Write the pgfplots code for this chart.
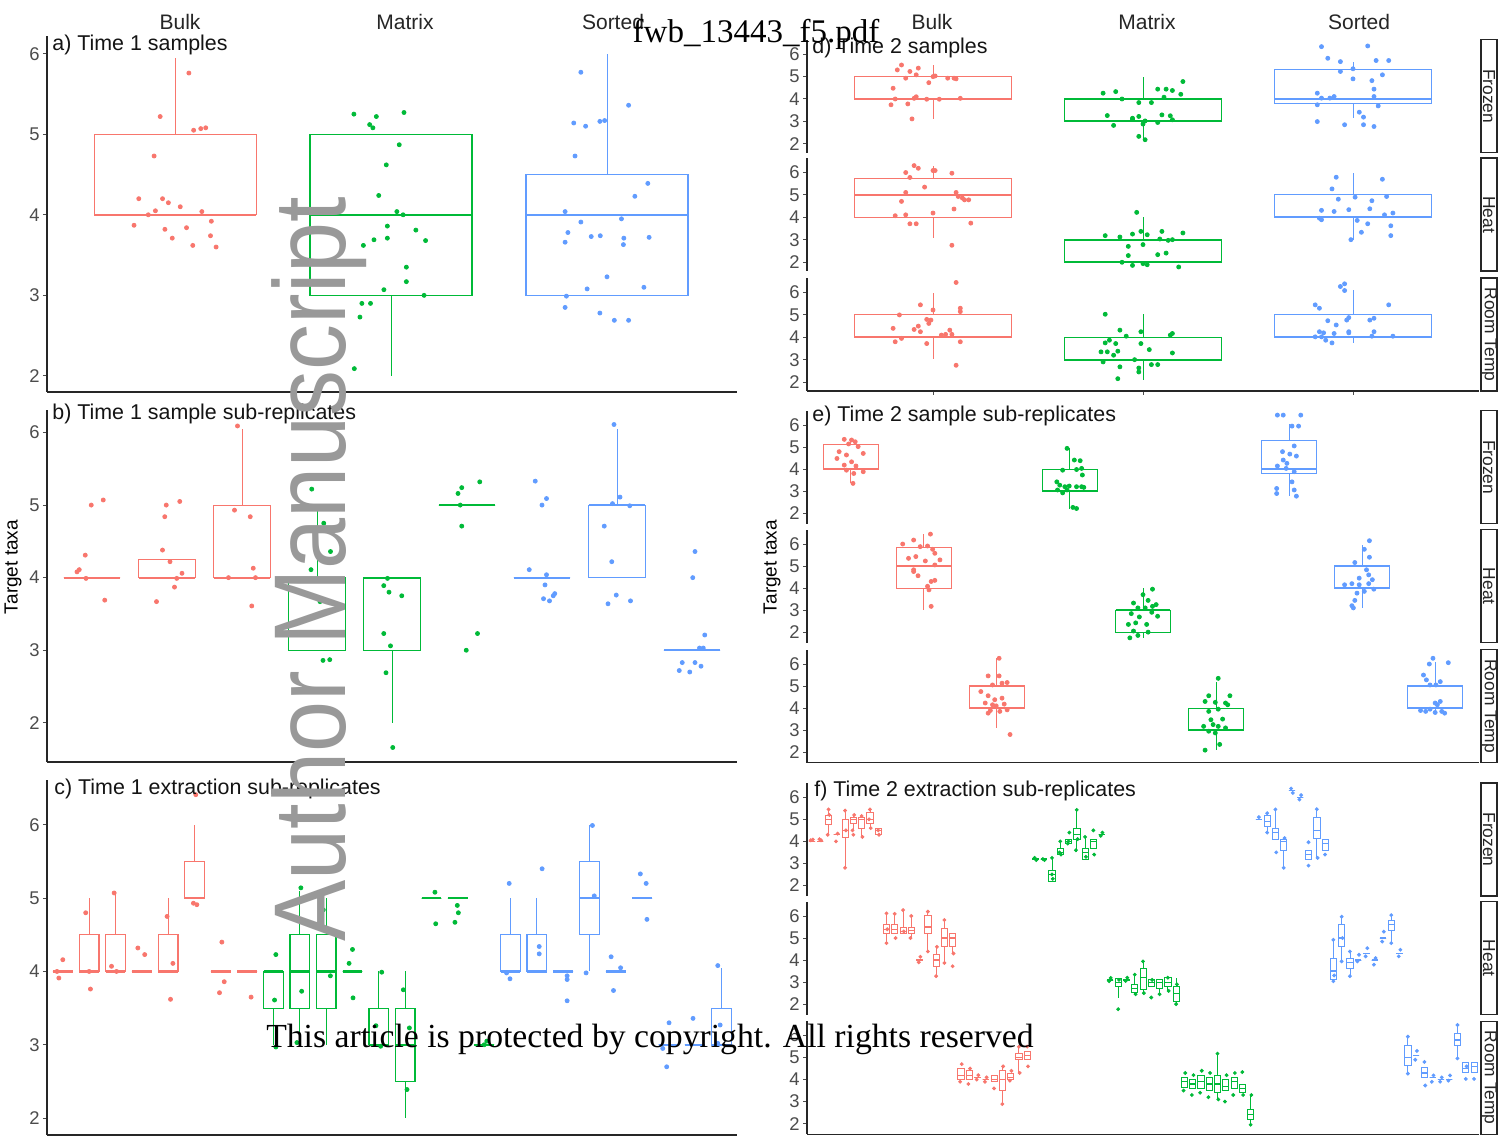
\documentclass[border=0pt]{standalone}
\usepackage{fontspec}
\setmainfont{Liberation Sans}
\newfontfamily\serif{Liberation Serif}
\usepackage{pgfplots}
\pgfplotsset{compat=1.18}
\usepgfplotslibrary{statistics}
\definecolor{cR}{HTML}{F8766D}
\definecolor{cG}{HTML}{00BA38}
\definecolor{cB}{HTML}{619CFF}
\newcommand{\bx}[7]{\addplot[draw=#1, boxplot prepared={draw position=#2, lower whisker=#3, lower quartile=#4, median=#5, upper quartile=#6, upper whisker=#7}] coordinates {};}
\newcommand{\bl}[3]{\bx{#1}{#2}{#3}{#3}{#3}{#3}{#3}}
\newcommand{\pts}[2]{\addplot[only marks, mark=*, mark size=1pt, color=#1, mark options={draw=none, fill=#1}] coordinates {#2};}
\newcommand{\ptf}[2]{\addplot[only marks, mark=*, mark size=0.75pt, color=#1, mark options={draw=none, fill=#1}] coordinates {#2};}
\pgfplotsset{
  every non boxed x axis/.append style={x axis line style=-},
  every non boxed y axis/.append style={y axis line style=-},
  pbase/.style={scale only axis, anchor=south west,
    ytick={2,3,4,5,6}, xtick=\empty,
    tick style={black!70, line width=0.5pt}, major tick length=2pt,
    ticklabel style={font=\fontsize{9.2}{9.2}\selectfont, text=black!70},
    yticklabel style={inner sep=1.5pt},
    /pgf/number format/assume math mode=true,
    boxplot/draw direction=y,
    boxplot/whisker extend=0, boxplot/box extend=0.75,
    boxplot/every median/.style={line width=1.1pt},
    boxplot/every box/.style={line width=0.55pt},
    boxplot/every whisker/.style={line width=0.5pt}},
  lns/.style={axis line style={-, black!85, line width=0.6pt}, tick align=outside},
  panL/.style={pbase, width=345pt, axis x line=bottom, axis y line=left, lns},
  panR/.style={pbase, width=336pt, height=56.5pt, axis x line=none, axis y line=left, lns},
  panRb/.style={pbase, width=336pt, height=56.5pt, axis x line=bottom, axis y line=left, lns},
  thinbox/.style={boxplot/every median/.style={line width=0.6pt},
    boxplot/every box/.style={line width=0.4pt},
    boxplot/every whisker/.style={line width=0.4pt}},
}
\begin{document}
\begin{tikzpicture}
\useasboundingbox (0,0) rectangle (752pt,568.5pt);
\fill[white] (0,0) rectangle (752pt,568.5pt);

% ---------- a) Time 1 samples
\begin{axis}[panL, at={(23.5pt,372.5pt)}, height=178pt, xmin=0.407, xmax=3.602, ymin=1.8, ymax=6.22]
\bx{cR}{1}{4}{4}{4}{5}{5.95}
\bx{cG}{2}{2}{3}{4}{5}{5}
\bx{cB}{3}{3}{3}{4}{4.5}{6}
\pts{cR}{(1.064,5.76)(0.931,5.22)(1.086,5.05)(1.119,5.07)(1.142,5.08)(0.903,4.73)(0.832,4.2)(0.942,4.2)(0.969,4.15)(1.024,4.1)(0.909,4.05)(0.876,4.0)(1.124,4.04)(0.810,3.87)(0.953,3.82)(1.053,3.84)(1.168,3.92)(0.987,3.71)(1.164,3.74)(1.082,3.62)(1.190,3.6)}
\pts{cG}{(1.828,5.25)(1.932,5.22)(2.060,5.27)(1.901,5.12)(1.916,5.08)(2.038,4.87)(1.978,4.62)(1.943,4.24)(2.027,4.04)(2.056,4.0)(1.983,3.86)(2.115,3.81)(1.921,3.69)(1.983,3.71)(2.160,3.68)(1.872,3.62)(2.071,3.35)(2.071,3.17)(1.967,3.07)(2.153,3.0)(1.865,2.9)(1.905,2.9)(1.856,2.73)(1.830,2.09)}
\pts{cB}{(2.879,5.77)(3.100,5.36)(2.846,5.14)(2.901,5.1)(2.967,5.16)(2.989,5.17)(2.852,4.73)(3.189,4.39)(3.129,4.23)(2.806,4.04)(2.879,3.91)(3.067,3.95)(2.819,3.78)(2.927,3.73)(2.969,3.74)(3.078,3.71)(3.195,3.72)(2.806,3.66)(3.076,3.63)(3.0,3.23)(2.908,3.08)(3.171,3.1)(2.812,2.99)(2.806,2.85)(2.967,2.78)(3.034,2.69)(3.100,2.69)}
\end{axis}

% ---------- b) Time 1 sample sub-replicates
\begin{axis}[panL, at={(23.5pt,187.5pt)}, height=176pt, xmin=0.4, xmax=9.6, ymin=1.46, ymax=6.31]
\bl{cR}{1}{4}
\bx{cR}{2}{4}{4}{4}{4.25}{4.25}
\bx{cR}{3}{4}{4}{4}{5}{6.05}
\bx{cG}{4}{3}{3}{4}{4}{5}
\bx{cG}{5}{2}{3}{4}{4}{4}
\bl{cG}{6}{5}
\bl{cB}{7}{4}
\bx{cB}{8}{4}{4}{5}{5}{6.05}
\bl{cB}{9}{3}
\pts{cR}{(0.99,5.0)(1.15,5.07)(0.91,4.31)(0.83,4.11)(0.80,4.08)(0.92,3.99)(1.17,3.69)(1.99,5.0)(2.17,5.05)(1.97,4.84)(1.94,4.38)(2.04,4.22)(2.20,4.06)(2.13,3.99)(2.10,3.87)(1.86,3.67)(2.94,6.09)(2.90,4.93)(3.11,4.84)(3.15,4.13)(2.82,4.0)(3.18,4.0)(3.13,3.61)}
\pts{cG}{(3.93,5.22)(4.09,4.75)(4.18,4.36)(3.92,4.11)(3.92,3.98)(4.04,3.67)(4.13,3.23)(4.08,2.86)(4.17,2.87)(4.94,3.99)(4.89,3.89)(4.96,3.80)(5.13,3.75)(4.89,3.23)(4.98,3.06)(4.92,2.69)(5.01,1.66)(6.17,5.32)(5.93,5.24)(5.88,5.16)(5.91,5.0)(5.93,4.71)(6.14,3.23)(5.99,3.0)}
\pts{cB}{(6.91,5.33)(7.06,5.09)(7.0,5.0)(6.83,4.11)(7.06,4.04)(7.04,3.90)(7.17,3.78)(7.15,3.75)(7.02,3.71)(7.10,3.68)(7.96,6.11)(8.04,5.11)(7.94,5.02)(8.17,4.99)(7.83,4.71)(7.93,4.22)(7.99,3.76)(8.18,3.68)(7.88,3.64)(9.04,4.36)(9.01,4.0)(9.17,3.21)(9.10,3.03)(9.15,3.03)(8.87,2.83)(9.04,2.83)(9.12,2.78)(8.83,2.72)(8.97,2.70)}
\end{axis}

% ---------- c) Time 1 extraction sub-replicates
\begin{axis}[panL, at={(23.5pt,1pt)}, height=177.5pt, xmin=0.4, xmax=26.6, ymin=1.77, ymax=6.61]
\bl{cR}{1}{4}
\bx{cR}{2}{4}{4}{4}{4.5}{5}
\bx{cR}{3}{4}{4}{4}{4.5}{5.05}
\bl{cR}{4}{4}
\bx{cR}{5}{4}{4}{4}{4.5}{5}
\bx{cR}{6}{5}{5}{5}{5.5}{6}
\bl{cR}{7}{4}
\bl{cR}{8}{4}
\bx{cG}{9}{3}{3.5}{4}{4}{4}
\bx{cG}{10}{3}{3.5}{4}{4.5}{5.1}
\bx{cG}{11}{3}{3.5}{4}{4.5}{5}
\bl{cG}{12}{4}
\bx{cG}{13}{3}{3}{3}{3.5}{4}
\bx{cG}{14}{2}{2.5}{3}{3.5}{4}
\bl{cG}{15}{5}
\bl{cG}{16}{5}
\bl{cG}{17}{3}
\bx{cB}{18}{4}{4}{4}{4.5}{5}
\bx{cB}{19}{4}{4}{4}{4.5}{5}
\bl{cB}{20}{4}
\bx{cB}{21}{4}{4.5}{5}{5.5}{6}
\bl{cB}{22}{4}
\bl{cB}{23}{5}
\bl{cB}{24}{3}
\bl{cB}{25}{3}
\bx{cB}{26}{3}{3}{3}{3.5}{4.05}
\pts{cR}{(1.0,4.16)(0.85,3.91)(0.78,4.0)(1.87,4.8)(2.05,3.76)(2.0,4.0)(2.95,5.07)(2.85,4.07)(3.04,4.0)(3.85,4.32)(4.11,4.23)(4.96,4.75)(5.18,4.11)(5.09,3.62)(5.96,4.93)(6.09,4.91)(6.05,6.41)(7.04,4.4)(7.13,3.86)(6.95,3.71)(8.15,3.65)}
\pts{cG}{(9.09,4.23)(9.04,3.61)(9.09,2.97)(10.04,5.14)(10.07,3.73)(9.89,3.03)(10.89,4.84)(11.16,3.94)(12.0,4.3)(11.87,4.11)(12.02,3.64)(13.11,3.99)(12.89,3.26)(13.07,2.98)(13.93,3.75)(14.16,3.23)(14.07,2.39)(15.13,5.08)(15.16,4.65)(15.98,4.9)(16.02,4.8)(15.89,4.67)(17.0,3.0)(17.1,3.05)}
\pts{cB}{(17.95,5.2)(17.98,3.9)(17.85,3.98)(19.2,5.4)(19.09,4.34)(19.09,4.24)(20.15,3.94)(20.15,3.89)(20.15,3.6)(21.11,5.99)(21.18,5.03)(20.87,3.98)(21.82,4.2)(22.18,4.05)(21.91,3.74)(22.93,5.33)(23.15,5.2)(23.18,4.71)(24.02,3.3)(23.78,2.95)(23.93,2.7)(24.93,3.36)(25.87,4.08)(25.96,3.27)(25.87,3.02)}
\end{axis}

% ---------- d) Time 2 samples
\begin{axis}[panR, at={(403.5pt,492.15pt)}, xmin=0.4, xmax=3.6, ymin=1.6, ymax=6.65]
\bx{cR}{1}{3.1}{4}{4}{5}{5.5}
\bx{cG}{2}{2.18}{3}{3}{4}{5}
\bx{cB}{3}{3.14}{3.8}{4}{5.3}{5.67}
\pts{cR}{(0.83,5.3)(0.85,5.52)(0.89,5.23)(0.93,5.38)(0.87,4.93)(0.92,5.08)(1.0,5.0)(1.01,5.03)(1.07,4.93)(1.10,4.93)(1.11,4.9)(0.98,4.73)(0.81,4.48)(0.92,4.1)(0.82,4.0)(0.91,4.03)(0.97,3.99)(1.03,3.99)(1.13,4.03)(0.80,3.74)(0.88,3.78)(0.90,3.11)}
\pts{cG}{(1.81,4.26)(1.87,4.33)(1.90,4.0)(1.98,3.84)(2.04,3.84)(2.07,4.44)(2.11,4.44)(2.14,4.38)(2.18,4.21)(2.19,4.78)(2.10,4.08)(1.83,3.26)(1.86,2.82)(1.95,3.14)(1.98,3.22)(2.01,3.02)(2.0,2.88)(2.07,2.95)(2.09,3.29)(2.13,3.25)(2.14,3.07)(1.98,2.33)(2.01,2.18)(1.95,3.1)}
\pts{cB}{(2.85,6.34)(3.07,6.37)(2.88,5.82)(2.94,5.67)(3.11,5.72)(3.17,5.72)(3.0,5.35)(2.94,5.23)(3.14,5.08)(3.0,4.9)(3.09,4.82)(3.1,4.44)(2.83,4.26)(2.85,4.04)(2.89,4.04)(2.91,4.11)(3.1,4.11)(2.83,3.74)(3.12,3.69)(3.03,3.41)(3.05,3.19)(2.83,2.99)(2.96,2.85)(3.05,2.85)(3.1,2.77)}
\end{axis}
\begin{axis}[panR, at={(403.5pt,433pt)}, xmin=0.4, xmax=3.6, ymin=1.6, ymax=6.65]
\bx{cR}{1}{3.07}{4}{5}{5.75}{6.31}
\bx{cG}{2}{2}{2}{3}{3}{4}
\bx{cB}{3}{3}{4}{4}{5}{6}
\pts{cR}{(0.91,6.31)(0.93,6.19)(0.87,6.0)(1.0,6.09)(1.01,6.09)(1.09,5.97)(0.89,5.78)(0.96,5.35)(0.87,5.11)(0.85,4.71)(1.11,5.11)(1.14,4.86)(1.15,4.78)(1.17,4.78)(0.82,4.07)(0.87,4.11)(1.0,4.19)(1.10,4.37)(0.89,3.71)(0.92,3.71)(1.18,3.74)(1.09,2.75)(1.12,4.93)}
\pts{cG}{(1.97,4.22)(1.82,3.18)(1.89,3.12)(1.95,3.25)(1.99,3.37)(2.02,3.22)(2.09,3.37)(2.08,3.03)(2.12,2.97)(2.19,3.3)(1.93,2.7)(2.0,2.78)(2.07,2.33)(2.11,2.4)(1.93,2.29)(1.90,1.99)(1.95,1.85)(2.0,1.93)(2.02,1.88)(2.17,1.78)(2.14,3.0)}
\pts{cB}{(2.92,5.79)(3.14,5.7)(2.90,5.27)(2.93,4.81)(3.01,4.9)(3.09,4.74)(3.16,4.93)(2.85,4.31)(2.91,4.26)(2.98,4.34)(3.08,4.38)(2.84,3.96)(2.85,3.89)(3.02,3.86)(3.15,4.11)(3.19,4.19)(3.07,3.71)(3.18,3.62)(3.04,3.33)(2.99,3.0)(3.18,3.18)}
\end{axis}
\begin{axis}[panRb, at={(403.5pt,373pt)}, xmin=0.4, xmax=3.6, ymin=1.6, ymax=6.65, xtick={1,2,3}, xticklabels={}]
\bx{cR}{1}{3.05}{4}{4}{5}{6}
\bx{cG}{2}{2.1}{3}{3}{4}{5.05}
\bx{cB}{3}{3.75}{4}{4}{5}{6.1}
\pts{cR}{(1.11,6.45)(0.94,5.45)(0.84,5.0)(1.0,5.22)(1.13,5.3)(1.13,5.15)(0.97,4.8)(0.99,4.77)(0.98,4.62)(0.81,4.4)(0.91,4.35)(0.93,4.5)(0.94,4.25)(1.08,4.32)(1.04,4.1)(1.06,4.13)(0.85,3.95)(0.82,3.8)(0.97,3.72)(1.13,3.8)(1.11,2.75)(1.09,4.13)}
\pts{cG}{(1.82,5.03)(1.89,4.32)(1.92,4.05)(1.99,4.25)(1.87,3.72)(1.84,3.87)(1.82,3.75)(2.13,4.1)(2.14,4.17)(1.99,3.72)(2.03,3.45)(1.80,3.35)(1.83,3.35)(1.88,3.38)(1.86,3.2)(2.14,3.3)(1.81,2.9)(1.96,3.0)(1.89,2.68)(1.98,2.63)(1.98,2.45)(2.04,2.78)(2.07,2.78)(1.88,2.15)}
\pts{cB}{(2.94,6.27)(2.96,6.39)(2.96,6.09)(2.82,5.45)(2.84,5.3)(3.17,5.45)(2.97,4.77)(2.98,4.88)(3.08,4.77)(3.10,4.85)(2.88,4.74)(2.92,4.55)(2.84,4.25)(2.86,4.2)(2.91,4.17)(2.98,4.25)(2.98,4.2)(3.10,4.25)(2.82,4.02)(2.85,4.02)(3.09,4.05)(3.19,4.05)(2.87,3.87)(2.90,3.75)}
\end{axis}

% ---------- e) Time 2 sample sub-replicates
\begin{axis}[panR, at={(403.5pt,306.65pt)}, xmin=0.4, xmax=9.6, ymin=1.52, ymax=6.65]
\bx{cR}{1}{3.35}{4}{4}{5.1}{5.35}
\bx{cG}{4}{2.21}{3}{3}{4}{4.94}
\bx{cB}{7}{2.77}{3.8}{4}{5.3}{6.05}
\pts{cR}{(0.91,5.35)(1.01,5.32)(1.06,5.24)(0.84,4.79)(0.94,4.64)(1.17,4.71)(0.81,4.48)(1.01,4.33)(0.91,4.18)(1.07,4.14)(0.94,3.95)(1.17,3.88)(1.04,3.8)(1.03,3.35)(0.97,5.14)(1.10,5.02)}
\pts{cG}{(3.96,4.94)(4.06,4.41)(4.14,4.38)(3.90,3.95)(4.09,3.98)(4.16,4.03)(4.17,3.73)(3.82,3.42)(3.86,3.27)(3.93,3.2)(3.99,3.23)(4.09,3.2)(4.16,3.2)(4.19,3.17)(3.83,3.05)(3.90,2.92)(4.04,2.26)(4.09,2.21)(3.96,3.05)}
\pts{cB}{(6.84,6.45)(6.92,6.45)(7.16,6.45)(7.04,5.95)(7.13,5.95)(7.07,5.05)(6.91,4.79)(7.01,4.68)(7.10,4.59)(6.92,4.41)(6.97,4.26)(6.84,4.14)(6.96,4.03)(7.07,3.88)(7.04,3.42)(6.83,3.12)(6.83,2.89)(7.07,3.05)(7.10,2.77)}
\end{axis}
\begin{axis}[panR, at={(403.5pt,247.15pt)}, xmin=0.4, xmax=9.6, ymin=1.52, ymax=6.65]
\bx{cR}{2}{3.0}{4}{5}{5.85}{6.45}
\bx{cG}{5}{1.74}{2}{3}{3}{4}
\bx{cB}{8}{3.1}{4}{4}{5}{5.95}
\pts{cR}{(2.09,6.45)(1.86,6.18)(1.71,6.0)(1.95,5.88)(2.05,5.91)(2.12,5.76)(2.15,5.58)(1.79,5.35)(1.89,5.43)(2.02,5.23)(1.86,4.83)(2.15,5.05)(2.22,5.28)(1.92,4.56)(2.10,4.3)(2.05,4.08)(2.15,4.35)(2.07,3.92)(2.10,3.17)(1.86,4.75)}
\pts{cG}{(5.13,3.95)(5.0,3.7)(4.87,3.32)(5.07,3.44)(5.18,3.25)(4.93,3.1)(5.03,3.1)(5.13,3.17)(4.84,2.84)(4.95,2.69)(5.12,2.9)(4.80,2.35)(4.90,2.42)(5.05,2.35)(5.20,2.72)(4.87,2.05)(4.82,1.74)(4.93,1.85)(5.07,2.0)}
\pts{cB}{(8.10,6.15)(8.03,5.76)(8.10,5.4)(7.90,5.16)(8.06,4.83)(8.09,4.6)(7.96,4.45)(8.14,4.38)(8.09,4.2)(7.86,4.2)(7.96,4.15)(8.16,3.95)(8.03,3.85)(7.93,3.77)(7.90,3.44)(7.86,3.2)(7.88,3.1)(7.76,4.15)}
\end{axis}
\begin{axis}[panRb, at={(403.5pt,187.15pt)}, xmin=0.4, xmax=9.6, ymin=1.52, ymax=6.65]
\bx{cR}{3}{3.1}{4}{4}{5}{6.26}
\bx{cG}{6}{2.09}{3}{3}{4}{5.2}
\bx{cB}{9}{3.77}{4}{4}{5}{6.1}
\pts{cR}{(3.03,6.26)(2.88,5.46)(3.03,5.46)(3.07,5.13)(2.94,5.05)(3.14,5.16)(2.78,4.75)(2.88,4.56)(2.97,4.38)(3.07,4.45)(2.84,4.23)(2.94,4.15)(3.10,4.18)(2.91,3.89)(3.04,3.85)(2.88,3.77)(3.14,3.92)(3.18,2.8)(2.99,4.1)}
\pts{cG}{(6.03,5.35)(5.90,4.56)(6.19,4.56)(5.85,4.3)(5.99,4.26)(6.13,4.23)(6.16,4.15)(5.90,3.85)(6.03,3.95)(5.93,3.47)(6.09,3.5)(5.83,3.17)(5.96,3.25)(6.03,3.17)(6.13,3.1)(5.90,2.95)(5.99,2.87)(6.05,2.35)(5.85,2.09)}
\pts{cB}{(8.97,6.26)(9.18,6.06)(8.92,6.0)(8.84,5.5)(8.88,5.28)(9.07,5.2)(9.01,5.05)(8.93,5.05)(9.07,4.3)(9.0,4.23)(9.03,4.15)(8.93,3.95)(8.87,3.85)(9.0,3.8)(9.09,3.85)(9.13,3.77)(8.80,3.89)}
\end{axis}

% ---------- f) Time 2 extraction sub-replicates
\begin{axis}[panR, thinbox, at={(403.5pt,120.5pt)}, xmin=0.4, xmax=81.6, ymin=1.52, ymax=6.65]
\bl{cR}{1}{4} \bl{cR}{2}{4} \bx{cR}{3}{4.3}{4.75}{5}{5.2}{5.45} \bl{cR}{4}{4.3} \bx{cR}{5}{2.8}{4.2}{4.5}{5.0}{5.4} \bx{cR}{6}{4.5}{4.8}{5}{5.1}{5.2} \bx{cR}{7}{4.2}{4.6}{5}{5.1}{5.15} \bx{cR}{8}{4.6}{4.8}{5}{5.3}{5.45} \bx{cR}{9}{4.3}{4.3}{4.5}{4.6}{4.6}
\ptf{cR}{(1.1,4.08)(0.85,4.05)(2.1,4.05)(1.9,4.1)(3,5.45)(3.1,5.2)(2.9,4.3)(4.1,4.35)(3.9,4.0)(5,5.4)(5,2.8)(5.1,4.5)(6.1,5.2)(5.9,4.5)(6,4.3)(7,5.15)(7.1,4.2)(8,5.45)(7.9,5.0)(8.1,4.6)(9,4.5)(9.1,4.3)}
\bl{cG}{28}{3.2} \bl{cG}{29}{3.2} \bx{cG}{30}{2.2}{2.2}{2.5}{2.7}{3.25} \bx{cG}{31}{3.4}{3.4}{3.5}{3.7}{4.0} \bx{cG}{32}{3.9}{3.9}{4}{4.1}{4.1} \bx{cG}{33}{3.5}{4.1}{4.3}{4.6}{5.43} \bx{cG}{34}{3.2}{3.2}{3.5}{3.7}{4.2} \bx{cG}{35}{3.7}{3.7}{4.0}{4.1}{4.1} \bl{cG}{36}{4.3}
\ptf{cG}{(27.9,3.25)(28.1,3.15)(29.1,3.15)(28.9,3.2)(30,3.25)(30,2.5)(30.1,2.3)(31,4.0)(30.9,3.5)(31.1,3.4)(32.1,4.4)(32,4.0)(31.9,3.9)(33,5.43)(33.1,4.1)(32.9,3.6)(34,4.2)(34.1,3.3)(35,4.5)(35.1,3.4)(36.1,4.4)(35.9,4.25)}
\bl{cB}{55}{5.0} \bx{cB}{56}{4.4}{4.7}{4.9}{5.2}{5.28} \bx{cB}{57}{4.1}{4.1}{4.4}{4.6}{5.45} \bx{cB}{58}{2.8}{3.6}{4.0}{4.1}{4.15} \bl{cB}{59}{6.3} \bl{cB}{60}{6.0} \bx{cB}{61}{3.2}{3.2}{3.4}{3.6}{3.6} \bx{cB}{62}{3.25}{4.15}{4.5}{5.1}{5.46} \bx{cB}{63}{3.6}{3.6}{3.9}{4.1}{4.1}
\ptf{cB}{(55,5.1)(56,5.28)(56,4.4)(57,5.45)(57.1,3.5)(58,2.8)(58.1,4.15)(58.9,6.4)(59.1,6.2)(60.1,6.1)(59.9,5.9)(61,3.96)(61,2.9)(62,5.46)(62.1,3.25)(63,3.4)}
\end{axis}
\begin{axis}[panR, thinbox, at={(403.5pt,61.15pt)}, xmin=0.4, xmax=81.6, ymin=1.52, ymax=6.65]
\bx{cR}{10}{4.77}{5.2}{5.4}{5.6}{6.1} \bx{cR}{11}{5.2}{5.2}{5.4}{5.6}{6.1} \bx{cR}{12}{5.2}{5.2}{5.3}{5.5}{6.27} \bx{cR}{13}{5.0}{5.2}{5.35}{5.5}{6.0} \bl{cR}{14}{4} \bx{cR}{15}{4.3}{5.2}{5.5}{6.05}{6.2} \bx{cR}{16}{3.27}{3.7}{4.0}{4.25}{4.6} \bx{cR}{17}{3.87}{4.6}{5.0}{5.45}{5.82} \bx{cR}{18}{4.3}{4.6}{5.0}{5.2}{5.2}
\ptf{cR}{(10,6.12)(10,4.77)(10.1,5.4)(11,6.1)(11.1,5.0)(12,6.27)(12.1,5.3)(13,6.0)(12.9,5.0)(14.1,4.15)(13.9,3.9)(15,6.2)(15,4.39)(16,3.27)(16.1,4.6)(17,5.82)(17,3.87)(18,3.72)(18.1,4.3)}
\bl{cG}{37}{3.1} \bx{cG}{38}{2.29}{2.82}{3.0}{3.19}{3.19} \bl{cG}{39}{3.1} \bx{cG}{40}{2.45}{2.52}{2.7}{2.9}{3.34} \bx{cG}{41}{2.5}{2.67}{3.2}{3.64}{3.94} \bx{cG}{42}{2.82}{2.82}{3.0}{3.12}{3.12} \bx{cG}{43}{2.45}{2.7}{3.0}{3.12}{3.12} \bx{cG}{44}{2.6}{2.82}{3.0}{3.2}{3.2} \bx{cG}{45}{2.0}{2.14}{2.5}{2.82}{3.19}
\ptf{cG}{(37.1,3.19)(36.9,3.04)(38,1.77)(38.1,3.1)(39.1,3.2)(38.9,3.05)(40,3.34)(40.1,2.45)(41,3.94)(41.1,2.5)(42,2.3)(42.1,3.1)(43,2.45)(44,3.2)(44.1,2.6)(45,2.0)(45.1,2.9)}
\bx{cB}{64}{3.04}{3.12}{3.5}{4.09}{4.92} \bx{cB}{65}{3.94}{4.62}{5.0}{5.6}{5.97} \bx{cB}{66}{3.27}{3.64}{3.9}{4.09}{4.39} \bl{cB}{67}{4} \bl{cB}{68}{4.3} \bl{cB}{69}{4} \bl{cB}{70}{5} \bx{cB}{71}{4.77}{5.37}{5.6}{5.82}{6.04} \bl{cB}{72}{4.3}
\ptf{cB}{(64,4.92)(64.1,3.3)(64,3.04)(65,5.97)(65.1,5.0)(65,3.94)(66,4.39)(66,3.27)(67.1,4.24)(66.9,3.94)(68.1,4.54)(67.9,4.17)(69.1,4.09)(68.9,3.79)(70.1,5.29)(69.9,4.84)(71,6.04)(71,4.77)(72.1,4.47)(71.9,4.17)}
\end{axis}
\begin{axis}[panRb, thinbox, at={(403.5pt,1.4pt)}, xmin=0.4, xmax=81.6, ymin=1.52, ymax=6.65]
\bx{cR}{19}{4.0}{4.0}{4.2}{4.5}{4.5} \bx{cR}{20}{4.0}{4.0}{4.2}{4.4}{4.4} \bl{cR}{21}{4.1} \bl{cR}{22}{4.0} \bx{cR}{23}{3.9}{3.9}{4.0}{4.2}{4.2} \bx{cR}{24}{2.9}{3.5}{4.0}{4.4}{4.6} \bx{cR}{25}{4.0}{4.0}{4.1}{4.3}{4.3} \bx{cR}{26}{4.3}{4.9}{5.0}{5.2}{5.5} \bx{cR}{27}{4.9}{4.9}{5.1}{5.3}{5.3}
\ptf{cR}{(19.1,4.7)(18.9,3.9)(20.1,4.5)(19.9,3.8)(21.1,4.2)(20.9,4.0)(22.1,4.1)(21.9,3.9)(23,3.6)(24,2.89)(24.1,4.6)(25.1,4.4)(24.9,3.95)(26,5.49)(26.1,4.3)(27,5.5)(27.1,4.6)}
\bx{cG}{46}{3.65}{3.65}{3.9}{4.11}{4.11} \bx{cG}{47}{3.6}{3.6}{3.8}{4.0}{4.0} \bx{cG}{48}{3.6}{3.6}{3.9}{4.2}{4.2} \bx{cG}{49}{3.5}{3.5}{3.8}{4.1}{4.1} \bx{cG}{50}{3.1}{3.4}{3.8}{4.2}{5.2} \bx{cG}{51}{3.5}{3.5}{3.7}{4.0}{4.0} \bx{cG}{52}{3.6}{3.6}{3.9}{4.1}{4.1} \bx{cG}{53}{3.4}{3.4}{3.6}{3.8}{3.8} \bx{cG}{54}{1.9}{2.2}{2.4}{2.66}{3.3}
\ptf{cG}{(46.1,4.3)(45.9,3.5)(47.1,4.2)(46.9,3.3)(48.1,4.4)(47.9,3.4)(49.1,4.3)(48.9,3.2)(50,5.18)(50.1,3.1)(51.1,4.2)(50.9,3.0)(52.1,4.3)(51.9,3.3)(53,4.34)(53.1,3.3)(54,1.95)(54.1,3.3)}
\bx{cB}{73}{4.27}{4.65}{5.0}{5.57}{5.95} \bl{cB}{74}{5.1} \bx{cB}{75}{4.1}{4.1}{4.3}{4.57}{4.57} \bl{cB}{76}{4.1} \bl{cB}{77}{4.0} \bl{cB}{78}{4.0} \bx{cB}{79}{4.96}{5.57}{5.8}{6.1}{6.5} \bx{cB}{80}{4.34}{4.34}{4.5}{4.8}{4.8} \bx{cB}{81}{4.34}{4.34}{4.6}{4.8}{4.8}
\ptf{cB}{(73,5.95)(73,4.27)(74.1,5.3)(73.9,4.9)(75,4.8)(75.1,3.73)(76.1,4.19)(75.9,3.9)(77.1,4.1)(76.9,3.9)(78.1,4.19)(77.9,3.95)(79,6.48)(79,4.96)(80,4.03)(80.1,4.6)(81,4.03)}
\end{axis}

% ---------- texts, strips and overlays (pixel coordinates)
\begin{scope}[x=0.5pt, y=-0.5pt, yshift=568.5pt]
\foreach \xx/\tt in {180/Bulk, 405/Matrix, 613/Sorted, 932/Bulk, 1147/Matrix, 1359/Sorted}
  \node[font=\fontsize{10.5}{10.5}\selectfont, text=black!85] at (\xx,22) {\tt};
\foreach \xx/\yy/\tt in {52/45/{a) Time 1 samples}, 52/414/{b) Time 1 sample sub-replicates}, 54/789/{c) Time 1 extraction sub-replicates}, 812/48/{d) Time 2 samples}, 812/416/{e) Time 2 sample sub-replicates}, 814/791/{f) Time 2 extraction sub-replicates}}
  \node[anchor=west, inner sep=0pt, font=\fontsize{10.7}{10.7}\selectfont, text=black!92] at (\xx,\yy) {\tt};
\node[rotate=90, font=\fontsize{9.5}{9.5}\selectfont] at (13,567) {Target taxa};
\node[rotate=90, font=\fontsize{9.5}{9.5}\selectfont] at (772,567) {Target taxa};
\foreach \ta/\tb/\tt in {39.7/152.7/Frozen, 158/271/Heat, 278/391/Room Temp, 410.7/523.7/Frozen, 529.7/642.7/Heat, 649.7/762.7/Room Temp, 783/896/Frozen, 901.7/1014.7/Heat, 1021.2/1134.2/Room Temp} {
  \draw[black!85, line width=0.6pt, fill=white] (1481,\ta) rectangle (1497,\tb);
  \node[rotate=-90, font=\fontsize{8.7}{8.7}\selectfont, text=black!85] at (1489,{(\ta+\tb)/2}) {\tt};
}
\node[rotate=90, xscale=0.9, anchor=base west, inner sep=0pt, text=black!40, font=\fontsize{51}{51}\selectfont] at (345,942) {Author Manuscript};
\node[anchor=base, inner sep=0pt, font=\serif\fontsize{16.5}{16.5}\selectfont] at (756,43) {fwb\_13443\_f5.pdf};
\node[anchor=base, inner sep=0pt, font=\serif\fontsize{16.85}{16.85}\selectfont] at (650,1047) {This article is protected by copyright. All rights reserved};
\end{scope}
\end{tikzpicture}
\end{document}
